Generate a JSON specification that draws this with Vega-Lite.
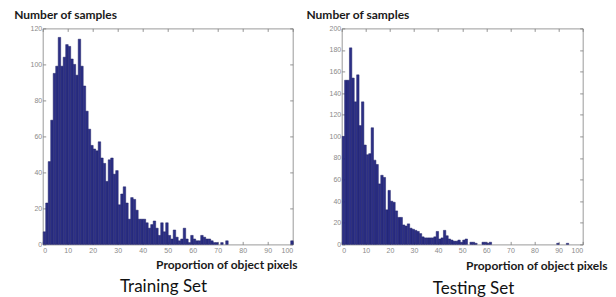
{
  "$schema": "https://vega.github.io/schema/vega-lite/v6.json",
  "padding": {"left": 12.7, "top": 7.4, "right": 5, "bottom": 5},
  "background": "white",
  "bounds": "flush",
  "spacing": 49,
  "config": {
    "view": {"stroke": "#9a9a9a", "strokeWidth": 1},
    "axis": {
      "domain": false, "grid": false,
      "tickSize": -3, "tickColor": "#7a7a7a", "tickWidth": 0.8,
      "labelColor": "#8a8a8a", "labelFontSize": 7, "labelFont": "Liberation Sans",
      "titleFont": "Lato", "titleFontWeight": "bold", "titleFontSize": 12, "titleColor": "#1a1a1a"
    }
  },
  "datasets": {
    "train": [
      {"lo":0,"hi":1,"n":7},{"lo":1,"hi":2,"n":23},{"lo":2,"hi":3,"n":46},{"lo":3,"hi":4,"n":69},{"lo":4,"hi":5,"n":95},
      {"lo":5,"hi":6,"n":99},{"lo":6,"hi":7,"n":115},{"lo":7,"hi":8,"n":99},{"lo":8,"hi":9,"n":104},{"lo":9,"hi":10,"n":111},
      {"lo":10,"hi":11,"n":110},{"lo":11,"hi":12,"n":103},{"lo":12,"hi":13,"n":100},{"lo":13,"hi":14,"n":94},{"lo":14,"hi":15,"n":114},
      {"lo":15,"hi":16,"n":99},{"lo":16,"hi":17,"n":88},{"lo":17,"hi":18,"n":74},{"lo":18,"hi":19,"n":64},{"lo":19,"hi":20,"n":55},
      {"lo":20,"hi":21,"n":53},{"lo":21,"hi":22,"n":52},{"lo":22,"hi":23,"n":57},{"lo":23,"hi":24,"n":48},{"lo":24,"hi":25,"n":45},
      {"lo":25,"hi":26,"n":35},{"lo":26,"hi":27,"n":47},{"lo":27,"hi":28,"n":48},{"lo":28,"hi":29,"n":39},{"lo":29,"hi":30,"n":41},
      {"lo":30,"hi":31,"n":22},{"lo":31,"hi":32,"n":28},{"lo":32,"hi":33,"n":32},{"lo":33,"hi":34,"n":23},{"lo":34,"hi":35,"n":14},
      {"lo":35,"hi":36,"n":26},{"lo":36,"hi":37,"n":25},{"lo":37,"hi":38,"n":19},{"lo":38,"hi":39,"n":14},{"lo":39,"hi":40,"n":14},
      {"lo":40,"hi":41,"n":14},{"lo":41,"hi":42,"n":12},{"lo":42,"hi":43,"n":9},{"lo":43,"hi":44,"n":11},{"lo":44,"hi":45,"n":13},
      {"lo":45,"hi":46,"n":9},{"lo":46,"hi":47,"n":5},{"lo":47,"hi":48,"n":12},{"lo":48,"hi":49,"n":7},{"lo":49,"hi":50,"n":12},
      {"lo":50,"hi":51,"n":5},{"lo":51,"hi":52,"n":3},{"lo":52,"hi":53,"n":8},{"lo":53,"hi":54,"n":4},{"lo":54,"hi":55,"n":2},
      {"lo":55,"hi":56,"n":3},{"lo":56,"hi":57,"n":9},{"lo":57,"hi":58,"n":3},{"lo":58,"hi":59,"n":1},{"lo":59,"hi":60,"n":5},
      {"lo":60,"hi":61,"n":3},{"lo":61,"hi":62,"n":2},{"lo":62,"hi":63,"n":2},{"lo":63,"hi":64,"n":5},{"lo":64,"hi":65,"n":4},
      {"lo":65,"hi":66,"n":3},{"lo":66,"hi":67,"n":3},{"lo":67,"hi":68,"n":2},{"lo":68,"hi":69,"n":1},{"lo":69,"hi":70,"n":1},
      {"lo":71,"hi":72,"n":1},{"lo":73,"hi":74,"n":2},{"lo":99,"hi":100,"n":2}
    ],
    "test": [
      {"lo":0,"hi":1,"n":100},{"lo":1,"hi":2,"n":152},{"lo":2,"hi":3,"n":152},{"lo":3,"hi":4,"n":182},{"lo":4,"hi":5,"n":154},
      {"lo":5,"hi":6,"n":132},{"lo":6,"hi":7,"n":157},{"lo":7,"hi":8,"n":110},{"lo":8,"hi":9,"n":132},{"lo":9,"hi":10,"n":92},
      {"lo":10,"hi":11,"n":83},{"lo":11,"hi":12,"n":84},{"lo":12,"hi":13,"n":108},{"lo":13,"hi":14,"n":78},{"lo":14,"hi":15,"n":74},
      {"lo":15,"hi":16,"n":56},{"lo":16,"hi":17,"n":64},{"lo":17,"hi":18,"n":62},{"lo":18,"hi":19,"n":32},{"lo":19,"hi":20,"n":50},
      {"lo":20,"hi":21,"n":40},{"lo":21,"hi":22,"n":39},{"lo":22,"hi":23,"n":31},{"lo":23,"hi":24,"n":25},{"lo":24,"hi":25,"n":25},
      {"lo":25,"hi":26,"n":18},{"lo":26,"hi":27,"n":17},{"lo":27,"hi":28,"n":19},{"lo":28,"hi":29,"n":15},{"lo":29,"hi":30,"n":14},
      {"lo":30,"hi":31,"n":13},{"lo":31,"hi":32,"n":12},{"lo":32,"hi":33,"n":10},{"lo":33,"hi":34,"n":7},{"lo":34,"hi":35,"n":6},
      {"lo":35,"hi":36,"n":6},{"lo":36,"hi":37,"n":6},{"lo":37,"hi":38,"n":6},{"lo":38,"hi":39,"n":7},{"lo":39,"hi":40,"n":12},
      {"lo":40,"hi":41,"n":5},{"lo":41,"hi":42,"n":6},{"lo":42,"hi":43,"n":13},{"lo":43,"hi":44,"n":8},{"lo":44,"hi":45,"n":5},
      {"lo":45,"hi":46,"n":4},{"lo":46,"hi":47,"n":3},{"lo":47,"hi":48,"n":3},{"lo":48,"hi":49,"n":4},{"lo":49,"hi":50,"n":2},
      {"lo":50,"hi":51,"n":4},{"lo":51,"hi":52,"n":5},{"lo":53,"hi":54,"n":2},{"lo":54,"hi":55,"n":2},{"lo":55,"hi":56,"n":1},
      {"lo":58,"hi":59,"n":2},{"lo":59,"hi":60,"n":2},{"lo":60,"hi":61,"n":1},{"lo":61,"hi":62,"n":2},
      {"lo":89,"hi":90,"n":1},{"lo":93,"hi":94,"n":1}
    ]
  },
  "hconcat": [
    {
      "width": 250, "height": 216,
      "data": {"name": "train"},
      "layer": [
        {
          "mark": {"type": "bar", "color": "#2c2f86", "stroke": "#1e2068", "strokeWidth": 0.5, "binSpacing": 0},
          "encoding": {
            "x": {"field": "lo", "type": "quantitative", "bin": {"binned": true, "step": 1},
                  "scale": {"domain": [0, 100], "nice": false},
                  "axis": {"orient": "bottom", "values": [0,10,20,30,40,50,60,70,80,90,100], "labelPadding": 5,
                           "title": "Proportion of object pixels", "titleX": 254.3, "titleY": 24, "titleAlign": "right", "titleBaseline": "alphabetic", "titleAngle": 0}},
            "x2": {"field": "hi"},
            "y": {"field": "n", "type": "quantitative",
                  "scale": {"domain": [0, 120], "nice": false},
                  "axis": {"orient": "left", "values": [0,20,40,60,80,100,120], "labelPadding": 4,
                           "title": "Number of samples", "titleAngle": 0, "titleX": -29, "titleY": -10, "titleAlign": "left", "titleBaseline": "alphabetic"}}
          }
        },
        {
          "mark": {"type": "bar", "opacity": 0, "binSpacing": 0},
          "encoding": {
            "x": {"field": "lo", "type": "quantitative", "bin": {"binned": true, "step": 1},
                  "scale": {"domain": [0, 100], "nice": false},
                  "axis": {"orient": "top", "values": [0,10,20,30,40,50,60,70,80,90,100], "labels": false, "title": null}},
            "x2": {"field": "hi"},
            "y": {"field": "n", "type": "quantitative",
                  "scale": {"domain": [0, 120], "nice": false},
                  "axis": {"orient": "right", "values": [0,20,40,60,80,100,120], "labels": false,
                           "title": "Training Set", "titleAngle": 0, "titleX": -129.7, "titleY": 263.5, "titleAlign": "center", "titleBaseline": "alphabetic",
                           "titleFontSize": 17, "titleFontWeight": "normal", "titleColor": "#111"}}
          }
        }
      ],
      "resolve": {"axis": {"x": "independent", "y": "independent"}}
    },
    {
      "width": 241, "height": 216,
      "data": {"name": "test"},
      "layer": [
        {
          "mark": {"type": "bar", "color": "#2c2f86", "stroke": "#1e2068", "strokeWidth": 0.5, "binSpacing": 0},
          "encoding": {
            "x": {"field": "lo", "type": "quantitative", "bin": {"binned": true, "step": 1},
                  "scale": {"domain": [0, 100], "nice": false},
                  "axis": {"orient": "bottom", "values": [0,10,20,30,40,50,60,70,80,90,100], "labelPadding": 5,
                           "title": "Proportion of object pixels", "titleX": 265.3, "titleY": 25, "titleAlign": "right", "titleBaseline": "alphabetic", "titleAngle": 0}},
            "x2": {"field": "hi"},
            "y": {"field": "n", "type": "quantitative",
                  "scale": {"domain": [0, 200], "nice": false},
                  "axis": {"orient": "left", "values": [0,20,40,60,80,100,120,140,160,180,200], "labelPadding": 4,
                           "title": "Number of samples", "titleAngle": 0, "titleX": -35.7, "titleY": -9.5, "titleAlign": "left", "titleBaseline": "alphabetic"}}
          }
        },
        {
          "mark": {"type": "bar", "opacity": 0, "binSpacing": 0},
          "encoding": {
            "x": {"field": "lo", "type": "quantitative", "bin": {"binned": true, "step": 1},
                  "scale": {"domain": [0, 100], "nice": false},
                  "axis": {"orient": "top", "values": [0,10,20,30,40,50,60,70,80,90,100], "labels": false, "title": null}},
            "x2": {"field": "hi"},
            "y": {"field": "n", "type": "quantitative",
                  "scale": {"domain": [0, 200], "nice": false},
                  "axis": {"orient": "right", "values": [0,20,40,60,80,100,120,140,160,180,200], "labels": false,
                           "title": "Testing Set", "titleAngle": 0, "titleX": -109.7, "titleY": 265.5, "titleAlign": "center", "titleBaseline": "alphabetic",
                           "titleFontSize": 17, "titleFontWeight": "normal", "titleColor": "#111"}}
          }
        }
      ],
      "resolve": {"axis": {"x": "independent", "y": "independent"}}
    }
  ]
}
